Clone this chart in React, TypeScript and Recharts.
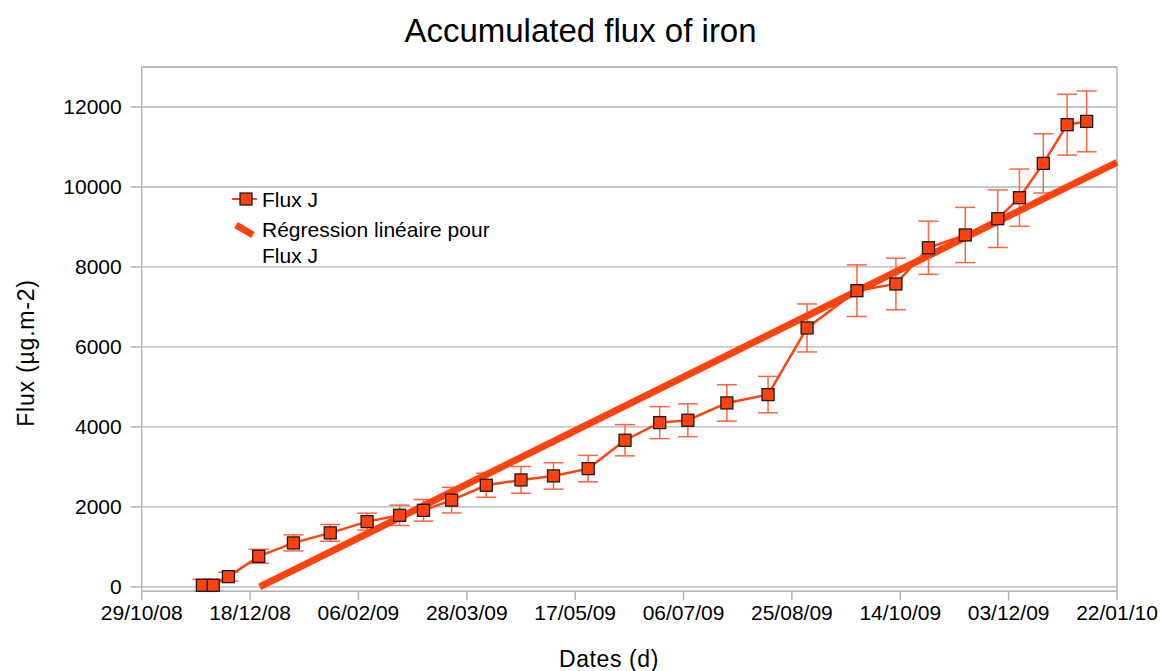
import {
  CartesianGrid,
  ErrorBar,
  Label,
  Line,
  LineChart,
  ReferenceLine,
  XAxis,
  YAxis,
} from "recharts";

// days counted from 29/10/08
const DAYS = [
  28, 33, 40, 54, 70, 87, 104, 119, 130, 143, 159, 175, 190, 206, 223, 239,
  252, 270, 289, 307, 330, 348, 363, 380, 395, 405, 416, 427, 436,
];
const FLUX = [
  40, 40, 257, 765, 1100, 1350, 1632, 1790, 1915, 2170, 2542, 2675, 2775,
  2958, 3667, 4108, 4167, 4600, 4808, 6475, 7407, 7575, 8480, 8800, 9207,
  9732, 10590, 11557, 11640,
];
const FLUX_ERR = [
  150, 150, 110, 175, 200, 210, 212, 254, 270, 320, 300, 335, 330, 330, 390,
  400, 410, 455, 455, 600, 645, 645, 665, 690, 720, 715, 740, 760, 760,
];

// regression line ends (day, flux)
const REG_DAYS = [54.4, 450];
const REG_VALUES = [0, 10617];

const X_TICKS = [0, 50, 100, 150, 200, 250, 300, 350, 400, 450];
const X_LABELS = [
  "29/10/08",
  "18/12/08",
  "06/02/09",
  "28/03/09",
  "17/05/09",
  "06/07/09",
  "25/08/09",
  "14/10/09",
  "03/12/09",
  "22/01/10",
];
const Y_TICKS = [0, 2000, 4000, 6000, 8000, 10000, 12000];

const RED = "#ff420e";
const GRID = "#b3b3b3";
const FONT = '"Liberation Sans", Arial, sans-serif';

const fluxData = DAYS.map((day, i) => ({
  day,
  flux: FLUX[i],
  err: FLUX_ERR[i],
}));

const regData = REG_DAYS.map((day, i) => ({ day, reg: REG_VALUES[i] }));

function SquareDot(props: any) {
  const { cx, cy, index } = props;
  if (cx == null || cy == null) return null;
  return (
    <rect
      key={`sq-${index}`}
      x={cx - 6}
      y={cy - 6}
      width={12}
      height={12}
      fill={RED}
      stroke="#1a1a1a"
      strokeWidth={1.3}
    />
  );
}

export default function App() {
  return (
    <div
      style={{
        position: "relative",
        width: 1161,
        height: 671,
        background: "#fff",
        fontFamily: FONT,
      }}
    >
      <style>{"body{margin:0}"}</style>
      <div
        style={{
          position: "absolute",
          left: 0,
          top: 11,
          width: 1161,
          textAlign: "center",
          fontSize: 33,
          color: "#000",
          lineHeight: "40px",
        }}
      >
        Accumulated flux of iron
      </div>

      <LineChart
        width={1161}
        height={671}
        margin={{ top: 67, right: 44, bottom: 0, left: 0 }}
        style={{ fontFamily: FONT }}
      >
        <CartesianGrid vertical={false} stroke={GRID} strokeWidth={1.3} />
        <XAxis
          type="number"
          dataKey="day"
          domain={[0, 450]}
          ticks={X_TICKS}
          tickFormatter={(v: number) => X_LABELS[Math.round(v / 50)]}
          stroke={GRID}
          strokeWidth={1.5}
          tickSize={9}
          tickMargin={5}
          height={79.7}
          tick={{ fill: "#000", fontSize: 21, fontFamily: FONT }}
          interval={0}
        >
          <Label
            content={() => (
              <text
                x={609}
                y={667}
                textAnchor="middle"
                fontSize={23}
                fontFamily={FONT}
                fill="#000"
                letterSpacing={0.6}
              >
                Dates (d)
              </text>
            )}
          />
        </XAxis>
        <YAxis
          type="number"
          domain={[0, 13000]}
          ticks={Y_TICKS}
          width={141.7}
          stroke={GRID}
          strokeWidth={1.5}
          tickSize={11}
          tickMargin={9}
          tick={{ fill: "#000", fontSize: 21, fontFamily: FONT }}
          interval={0}
        >
          <Label
            content={() => (
              <text
                x={34}
                y={353}
                transform="rotate(-90 34 353)"
                textAnchor="middle"
                fontSize={23}
                fontFamily={FONT}
                fill="#000"
                letterSpacing={0.8}
              >
                Flux (µg.m-2)
              </text>
            )}
          />
        </YAxis>
        <ReferenceLine y={13000} stroke={GRID} strokeWidth={1.5} />
        <ReferenceLine x={450} stroke={GRID} strokeWidth={1.5} />

        <Line
          data={fluxData}
          dataKey="flux"
          stroke={RED}
          strokeWidth={2.5}
          dot={SquareDot}
          activeDot={false}
          isAnimationActive={false}
        >
          <ErrorBar
            dataKey="err"
            direction="y"
            width={10}
            stroke="#ff6440"
            strokeWidth={1.5}
            isAnimationActive={false}
          />
        </Line>
        <Line
          data={regData}
          dataKey="reg"
          stroke={RED}
          strokeWidth={7}
          dot={false}
          activeDot={false}
          isAnimationActive={false}
        />
      </LineChart>

      <svg
        width={300}
        height={90}
        style={{ position: "absolute", left: 220, top: 180 }}
      >
        <line x1={12} y1={19} x2={37} y2={19} stroke={RED} strokeWidth={2} />
        <rect
          x={20}
          y={13}
          width={12}
          height={12}
          fill={RED}
          stroke="#1a1a1a"
          strokeWidth={1.3}
        />
        <text x={42} y={27} fontSize={21} fontFamily={FONT} fill="#000">
          Flux J
        </text>
        <line
          x1={16}
          y1={45}
          x2={33}
          y2={55}
          stroke={RED}
          strokeWidth={7}
        />
        <text x={42} y={57} fontSize={21} fontFamily={FONT} fill="#000">
          Régression linéaire pour
        </text>
        <text x={42} y={83} fontSize={21} fontFamily={FONT} fill="#000">
          Flux J
        </text>
      </svg>
    </div>
  );
}
